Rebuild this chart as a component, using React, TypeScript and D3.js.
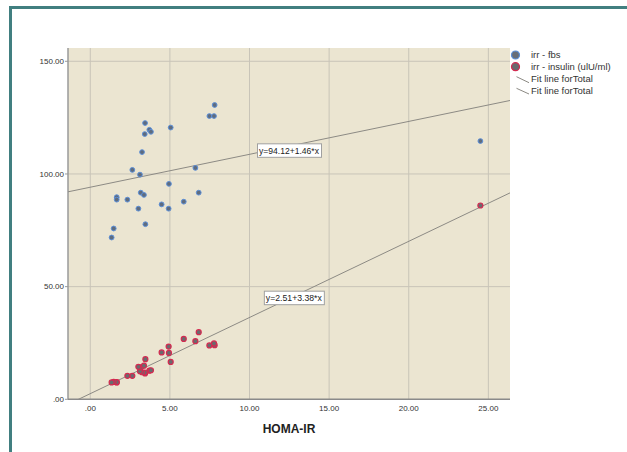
import * as d3 from 'd3';

// HOMA-IR against fasting blood sugar and insulin
const homaIr = [7.81, 7.48, 7.77, 3.44, 3.71, 3.81, 3.42, 5.05, 3.25, 2.64, 3.12, 6.6, 4.94, 3.17, 3.37, 1.66, 1.66, 2.33, 6.81, 5.87, 4.48, 3.02, 4.92, 3.46, 1.47, 1.34, 24.5];
const fbs = [130.6, 125.7, 125.7, 122.6, 119.6, 118.7, 117.7, 120.6, 109.7, 101.8, 99.7, 102.7, 95.6, 91.7, 90.7, 89.7, 88.6, 88.6, 91.7, 87.7, 86.5, 84.6, 84.6, 77.7, 75.8, 71.8, 114.6];
const insulin = [24.0, 23.9, 24.8, 11.5, 12.7, 12.9, 11.9, 16.6, 12.0, 10.4, 12.5, 25.8, 20.6, 14.2, 14.9, 7.5, 7.6, 10.4, 29.8, 26.8, 20.8, 14.4, 23.4, 17.8, 7.7, 7.5, 86.0];

const fits = [
  { a: 94.12, b: 1.46, label: 'y=94.12+1.46*x', at: [10.47, 113.6] },
  { a: 2.51, b: 3.38, label: 'y=2.51+3.38*x', at: [10.9, 48.2] },
];

const xTicks = [0, 5, 10, 15, 20, 25];
const xTickLabels = ['.00', '5.00', '10.00', '15.00', '20.00', '25.00'];
const yTicks = [0, 50, 100, 150];
const yTickLabels = ['.00', '50.00', '100.00', '150.00'];

const legendItems = ['irr - fbs', 'irr - insulin (ulU/ml)', 'Fit line forTotal', 'Fit line forTotal'];

const W = 627;
const H = 452;
const plot = { left: 68, right: 510, top: 48, bottom: 399.3 };
const font = '"Liberation Sans", Arial, sans-serif';

export default function App() {
  const x = d3.scaleLinear().domain([-1.4, 26.36]).range([plot.left, plot.right]);
  const y = d3.scaleLinear().domain([0, 155.9]).range([plot.bottom, plot.top]);

  const fbsPts = homaIr.map((h, i) => ({ h, v: fbs[i] }));
  const insPts = homaIr.map((h, i) => ({ h, v: insulin[i] }));
  const [x0, x1] = x.domain();
  const line = d3.line<number[]>().x(d => x(d[0])).y(d => y(d[1]));

  return (
    <svg width={W} height={H} style={{ position: 'absolute', left: 0, top: 0, background: '#fff' }} fontFamily={font}>
      <defs>
        <clipPath id="plotClip">
          <rect x={plot.left} y={plot.top} width={plot.right - plot.left} height={plot.bottom - plot.top} />
        </clipPath>
      </defs>
      {/* outer frame */}
      <rect x={10.5} y={7.5} width={700} height={500} fill="none" stroke="#417f80" strokeWidth={3} />

      {/* plot background */}
      <rect x={plot.left} y={plot.top} width={plot.right - plot.left} height={plot.bottom - plot.top} fill="#ebe5d1" />

      {/* grid */}
      {xTicks.map(t => (
        <line key={'gx' + t} x1={x(t)} x2={x(t)} y1={plot.top} y2={plot.bottom} stroke="#c8c4b8" strokeWidth={1} />
      ))}
      {yTicks.filter(t => t > 0).map(t => (
        <line key={'gy' + t} x1={plot.left} x2={plot.right} y1={y(t)} y2={y(t)} stroke="#c8c4b8" strokeWidth={1} />
      ))}

      {/* axes */}
      <line x1={plot.left} x2={plot.left} y1={plot.top} y2={plot.bottom} stroke="#9a9a9a" strokeWidth={1.5} />
      <line x1={plot.left} x2={plot.right} y1={plot.bottom} y2={plot.bottom} stroke="#8a8a8a" strokeWidth={1.5} />
      {yTicks.map((t, i) => (
        <g key={'ty' + t}>
          <line x1={plot.left - 3} x2={plot.left} y1={y(t)} y2={y(t)} stroke="#9a9a9a" />
          <text x={plot.left - 4} y={y(t)} dy="0.35em" textAnchor="end" fontSize={8} fill="#333">{yTickLabels[i]}</text>
        </g>
      ))}
      {xTicks.map((t, i) => (
        <text key={'tx' + t} x={x(t)} y={plot.bottom + 12} textAnchor="middle" fontSize={8} fill="#333">{xTickLabels[i]}</text>
      ))}
      <text x={289} y={433} textAnchor="middle" fontSize={12} fontWeight="bold" fill="#222">HOMA-IR</text>

      {/* fit lines */}
      <g clipPath="url(#plotClip)">
        {fits.map((f, i) => (
          <path key={'f' + i} d={line([[x0, f.a + f.b * x0], [x1, f.a + f.b * x1]]) || ''} fill="none" stroke="#8c8a84" strokeWidth={1} />
        ))}
      </g>

      {/* points */}
      {fbsPts.map((d, i) => (
        <circle key={'b' + i} cx={x(d.h)} cy={y(d.v)} r={2.4} fill="#5f6c7e" stroke="#5c8fd8" strokeWidth={1} />
      ))}
      {insPts.map((d, i) => (
        <circle key={'r' + i} cx={x(d.h)} cy={y(d.v)} r={2.5} fill="#6a6a6e" stroke="#d42a50" strokeWidth={1.2} />
      ))}

      {/* fit labels */}
      {fits.map((f, i) => (
        <g key={'fl' + i} transform={`translate(${x(f.at[0])},${y(f.at[1])})`}>
          <rect x={0.5} y={0.5} width={i === 0 ? 64 : 60} height={13.5} fill="#fff" stroke="#a0a0a0" strokeWidth={1} />
          <text x={2} y={10.5} fontSize={9} fill="#222" textLength={i === 0 ? 60 : 56} lengthAdjust="spacingAndGlyphs">{f.label}</text>
        </g>
      ))}

      {/* legend */}
      <g transform="translate(515,0)">
        <circle cx={0.5} cy={55} r={4} fill="#6a6f78" stroke="#5c8fd8" strokeWidth={1.2} />
        <circle cx={0.5} cy={66.7} r={4} fill="#6a6a6e" stroke="#d42a50" strokeWidth={1.2} />
        <line x1={1.5} y1={76.7} x2={14} y2={82.7} stroke="#8c8a84" />
        <line x1={1.5} y1={88.3} x2={14} y2={94} stroke="#8c8a84" />
        {legendItems.map((t, i) => (
          <text key={'lg' + i} x={16} y={[58.3, 70, 81.5, 93.5][i]} fontSize={9.5} fill="#333">{t}</text>
        ))}
      </g>
    </svg>
  );
}
